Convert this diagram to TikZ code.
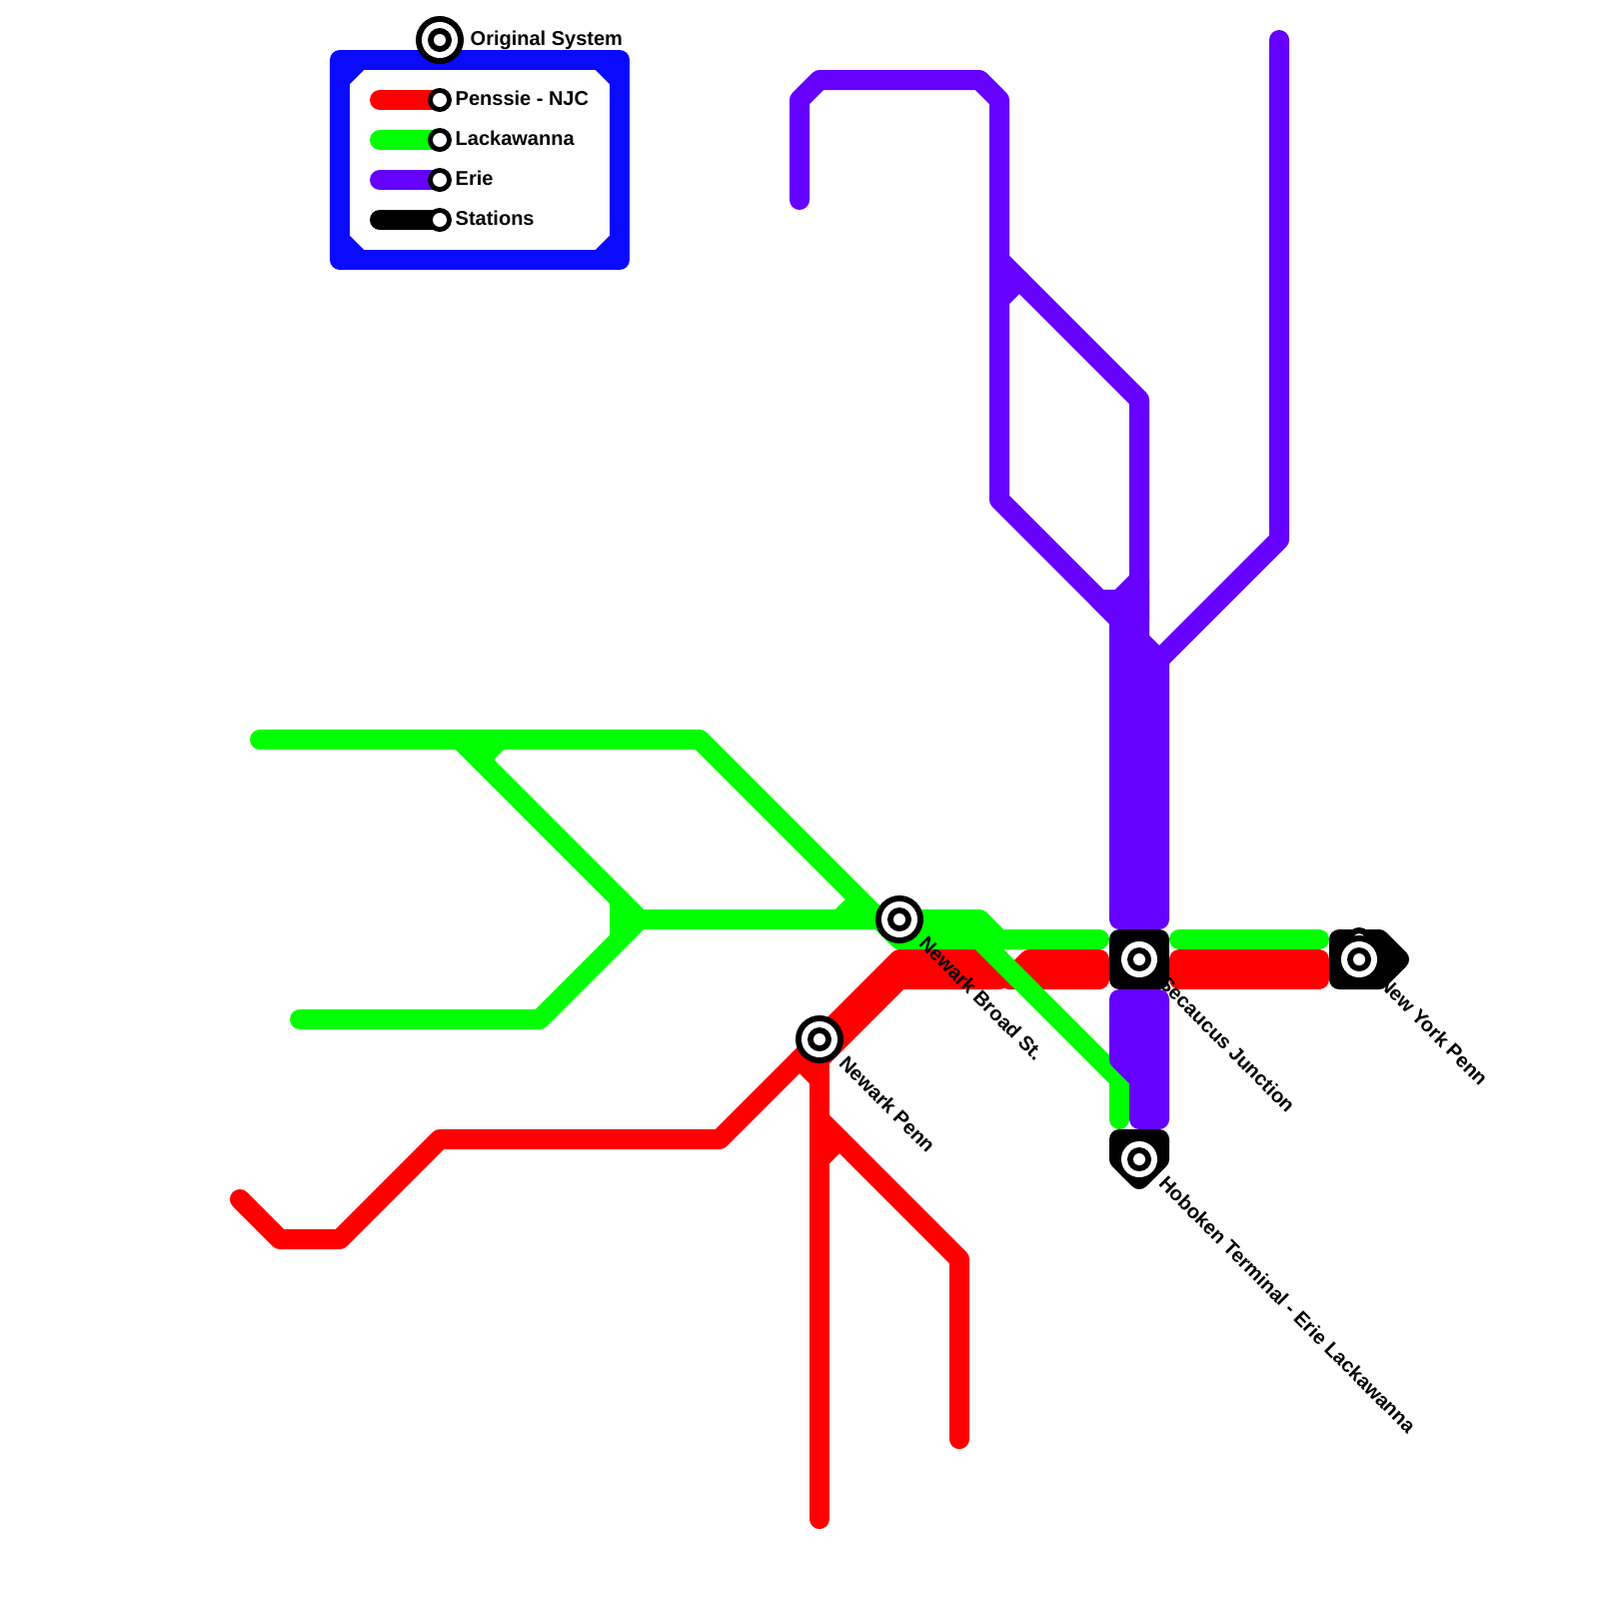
\documentclass[tikz,border=0pt]{standalone}
\usepackage{fontspec}
\setmainfont{Liberation Sans}
\usetikzlibrary{positioning}
\definecolor{pennred}{RGB}{255, 0, 0}
\definecolor{lackgreen}{RGB}{0, 255, 0}
\definecolor{eriepurple}{RGB}{102, 0, 255}
\definecolor{frameblue}{RGB}{10, 10, 255}
\begin{document}
\begin{tikzpicture}[x=0.1mm, y=-0.1mm,
   rail/.style={line width=2mm, line cap=round, line join=round},
   redline/.style={rail, draw=pennred},
   redband/.style={redline, fill=pennred},
   greenline/.style={rail, draw=lackgreen},
   purpleline/.style={rail, draw=eriepurple},
   purpleband/.style={purpleline, fill=eriepurple},
   blackbox/.style={rail, draw=black, fill=black},
   framed/.style={rail, draw=frameblue},
   lbl/.style={font=\fontsize{5.69pt}{6.8pt}\selectfont\bfseries, inner sep=0pt, anchor=base west},
   sta/.style={lbl, rotate=-45}]
  \useasboundingbox (0,0) rectangle (1600,1600);
  % legend frame
  \draw[framed] (340,60) rectangle (620,260);
  \foreach \a/\b/\c/\d in {340/80/360/60, 600/60/620/80, 340/240/360/260, 600/260/620/240}
    \draw[framed] (\a,\b) -- (\c,\d);
  \draw[redline] (380,100) -- (440,100);
  \draw[greenline] (380,140) -- (440,140);
  \draw[purpleline] (380,180) -- (440,180);
  \draw[rail, draw=black] (380,220) -- (440,220);
  % red
  \draw[redline] (240,1200) -- (280,1240) -- (340,1240) -- (440,1140) -- (720,1140) -- (820,1040);
  \draw[redband] (820,1040) -- (900,960) -- (1000,960) -- (1000,980) -- (900,980) -- (820,1060) -- cycle;
  \draw[redline] (820,1520) -- (820,1060);
  \draw[redline] (820,1120) -- (960,1260) -- (960,1440);
  \draw[redline] (820,1160) -- (840,1140);
  \draw[redline] (800,1060) -- (820,1080);
  \draw[redband] (1100,960) -- (1030,960) -- (1010,980) -- (1100,980) -- cycle;
  \draw[redband] (1180,960) rectangle (1320,980);
  % green
  \draw[greenline] (260,740) -- (700,740) -- (900,940) -- (980,940) -- (1120,1080) -- (1120,1120);
  \draw[greenline] (460,740) -- (640,920);
  \draw[greenline] (480,760) -- (500,740);
  \draw[greenline] (300,1020) -- (540,1020) -- (620,940) -- (620,900);
  \draw[greenline] (620,940) -- (640,920) -- (840,920) -- (860,900);
  \draw[greenline] (840,920) -- (980,920) -- (1000,940) -- (1100,940);
  \draw[greenline] (1180,940) -- (1320,940);
  % purple
  \draw[purpleline] (800,200) -- (800,100) -- (820,80) -- (980,80) -- (1000,100) -- (1000,500) -- (1120,620);
  \draw[purpleline] (1160,660) -- (1280,540) -- (1280,40);
  \draw[purpleline] (1000,260) -- (1140,400) -- (1140,640);
  \draw[purpleline] (1000,300) -- (1020,280);
  \draw[purpleband] (1100,600) -- (1120,600) -- (1140,580) -- (1140,620) -- (1120,620) -- cycle;
  \draw[purpleband] (1120,620) -- (1160,660) -- (1160,920) -- (1120,920) -- cycle;
  \draw[purpleband] (1120,1000) -- (1160,1000) -- (1160,1120) -- (1140,1120) -- (1140,1080) -- (1120,1060) -- cycle;
  % labels
  \node[lbl] (orig) at (470,45) {Original System};
  \node[lbl] (pennleg) at (455,105) {Penssie - NJC};
  \node[lbl] (lackleg) at (455,145) {Lackawanna};
  \node[lbl] (erieleg) at (455,185) {Erie};
  \node[lbl] (stnleg) at (455,225) {Stations};
  \node[sta] (broadlbl) at (918,945) {Newark Broad St.};
  \node[sta] (pennlbl) at (838,1065) {Newark Penn};
  \node[sta] (secaucuslbl) at (1158,985) {Secaucus Junction};
  \node[sta] (nylbl) at (1378,985) {New York Penn};
  \node[sta] (hobokenlbl) at (1158,1185) {Hoboken Terminal - Erie Lackawanna};
  % terminals
  \draw[blackbox] (1120,940) rectangle (1160,980);
  \draw[blackbox] (1340,940) -- (1380,940) -- (1400,960) -- (1380,980) -- (1340,980) -- cycle;
  \draw[blackbox] (1120,1140) -- (1160,1140) -- (1160,1160) -- (1140,1180) -- (1120,1160) -- cycle;
  % stations
  \draw[black, line width=0.6mm, fill=white] (1360,940) circle (9);
  \foreach \p in {(440,40), (900,920), (820,1040), (1140,960), (1360,960), (1140,1160)} {
    \fill[black] \p circle (24);
    \fill[white] \p circle (18);
    \fill[black] \p circle (12);
    \fill[white] \p circle (6);
  }
  \foreach \p in {(440,100), (440,140), (440,180), (440,220)} {
    \fill[black] \p circle (12);
    \fill[white] \p circle (7);
  }
\end{tikzpicture}
\end{document}
